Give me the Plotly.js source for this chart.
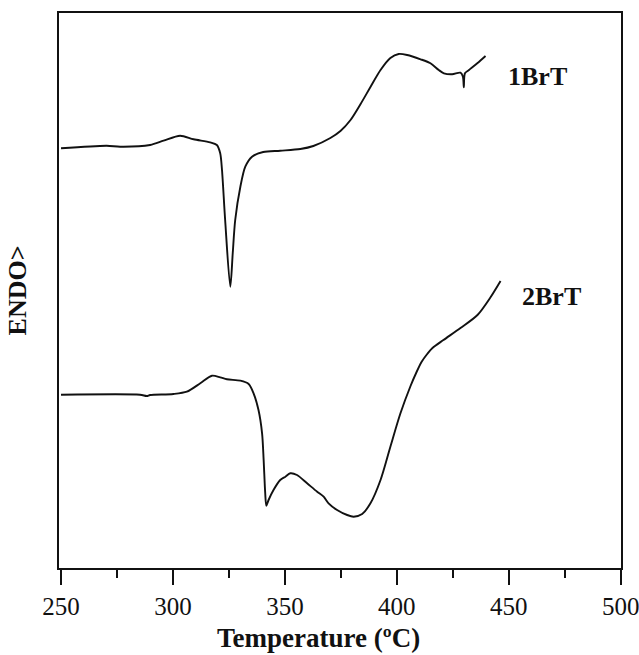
<!DOCTYPE html>
<html>
<head>
<meta charset="utf-8">
<script src="https://cdn.plot.ly/plotly-3.0.1.min.js"></script>
<style>html,body{margin:0;padding:0;background:#fff;}#chart{width:639px;height:655px;}</style>
</head>
<body>
<div id="chart"></div>
<script>
// Temperature (°C) and heat-flow signal (arbitrary units, ENDO up)
const temp1BrT = [250, 270.4, 276.4, 289.8, 295.8, 303.2, 309.2, 316.6, 319.6, 321.1, 321.9, 323.3, 325.6, 326.7, 327.8, 330.1, 332.3, 335.3, 340.3, 347.9, 356.9, 362.7, 370.3, 374.8, 379.3, 383.8, 388.2, 392.7, 397.1, 400.8, 404.6, 410.6, 415.0, 418.7, 421.0, 424.7, 428.4, 429.5, 429.9, 430.4, 432.2, 435.9, 439.6];
const sig1BrT  = [419.7, 422.3, 421.3, 423, 427.3, 432.3, 428.7, 425.7, 423, 414.7, 398, 348, 281.3, 315, 348, 381.3, 401.3, 411.3, 416, 417.3, 419, 422, 430, 437, 448, 464, 481, 498, 510, 514, 513, 508.7, 504.7, 498, 494.7, 493.7, 495.3, 491.3, 480.7, 494.7, 498, 504.7, 512];

const temp2BrT = [250, 285.3, 288.3, 289.8, 300.2, 306.2, 312.2, 317.4, 321.1, 324.1, 330.1, 333.8, 336.0, 338.2, 339.8, 340.5, 341.2, 341.7, 342.7, 344.9, 347.9, 350.2, 352.4, 355.4, 359.9, 364.4, 367.3, 369.5, 373.3, 377.8, 380.7, 384.5, 388.2, 392.7, 397.1, 401.6, 406.1, 408.8, 411.0, 413.2, 415.9, 420.8, 428.4, 436.0, 441.9, 446.3];
const sig2BrT  = [173.3, 173.3, 172, 173, 174, 176.3, 184.7, 192.3, 190.7, 188.7, 187.3, 184, 174.7, 158, 134.7, 108, 74.7, 62.3, 68, 78, 88, 91.3, 94.7, 93, 84.7, 76.3, 71.3, 64.7, 58, 53, 51.3, 54, 64.7, 88, 121.3, 154.7, 182, 196, 206, 213, 220, 228, 240, 253, 271, 287];

const xTicks = [250, 300, 350, 400, 450, 500];
const labels = ['1BrT', '2BrT'];
const labelPos = [[462.8, 492], [469.2, 272]];

const serif = 'Liberation Serif, Times New Roman, serif';
const lineStyle = {color: '#111', width: 1.9, shape: 'spline', smoothing: 0.8};

const traces = [
  {x: temp1BrT, y: sig1BrT, mode: 'lines', line: lineStyle, hoverinfo: 'skip', showlegend: false},
  {x: temp2BrT, y: sig2BrT, mode: 'lines', line: lineStyle, hoverinfo: 'skip', showlegend: false}
];

const layout = {
  width: 639, height: 655,
  margin: {l: 59, r: 18, t: 13, b: 87},
  paper_bgcolor: '#fff', plot_bgcolor: '#fff',
  font: {family: serif, color: '#111'},
  showlegend: false,
  xaxis: {
    range: [249.1, 500.1],
    tickvals: xTicks,
    ticktext: xTicks.map(String),
    ticklabeloverflow: 'allow',
    ticks: 'outside', ticklen: 15, tickwidth: 1.6, tickcolor: '#111',
    minor: {dtick: 25, tick0: 250, ticks: 'outside', ticklen: 8, tickwidth: 1.6, tickcolor: '#111'},
    showline: true, linecolor: '#111', linewidth: 2, mirror: true,
    showgrid: false, zeroline: false,
    tickfont: {family: serif, size: 25, color: '#111'}
  },
  yaxis: {
    range: [0, 555],
    showticklabels: false, ticks: '',
    showline: true, linecolor: '#111', linewidth: 2, mirror: true,
    showgrid: false, zeroline: false,
    title: {text: '<b>ENDO></b>', font: {family: serif, size: 26, color: '#111'}, standoff: 23}
  },
  annotations: labels.map((t, i) => ({
    x: labelPos[i][0], y: labelPos[i][1], xref: 'x', yref: 'y',
    text: '<b>' + t + '</b>', showarrow: false, xanchor: 'center', yanchor: 'middle',
    font: {family: serif, size: 26, color: '#111'}
  })).concat([{
    x: 0.4626, y: -0.126, xref: 'paper', yref: 'paper',
    text: '<b>Temperature (ºC)</b>', showarrow: false, xanchor: 'center', yanchor: 'middle',
    font: {family: serif, size: 27, color: '#111'}
  }])
};

Plotly.newPlot('chart', traces, layout, {displayModeBar: false, staticPlot: true});
</script>
</body>
</html>
